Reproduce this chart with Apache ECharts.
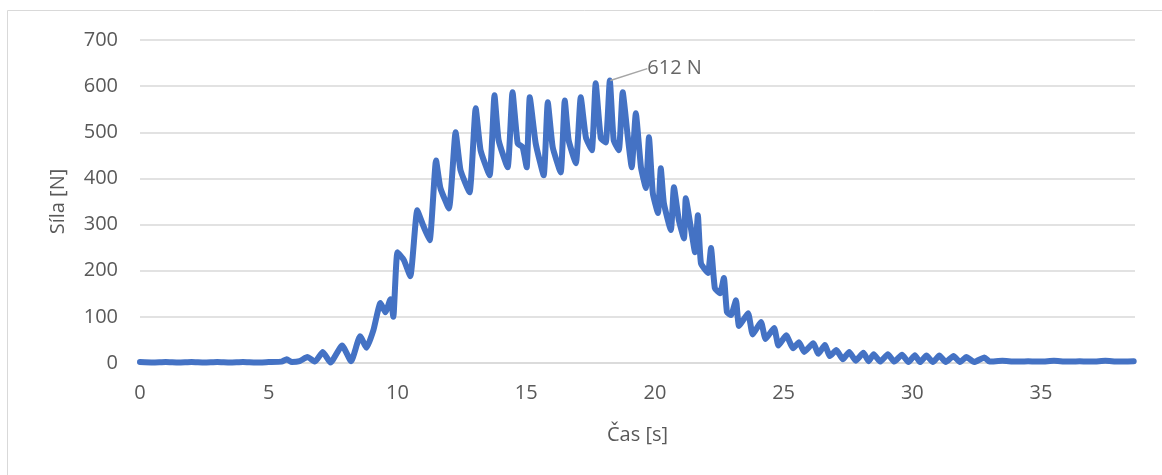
<!DOCTYPE html>
<html>
<head>
<meta charset="utf-8">
<script src="https://cdn.jsdelivr.net/npm/echarts@6/dist/echarts.min.js"></script>
<style>html,body{margin:0;padding:0;background:#fff}#c{width:1162px;height:475px}</style>
</head>
<body>
<div id="c"></div>
<script>
const times = [0,0.5,1,1.5,2,2.5,3,3.5,4,4.5,5,5.5,5.7,5.9,6.2,6.5,6.8,7.1,7.4,7.85,8.2,8.55,8.8,9.07,9.34,9.53,9.73,9.84,10.0,10.25,10.5,10.77,11.0,11.25,11.5,11.67,12.0,12.26,12.45,12.8,13.04,13.23,13.58,13.77,13.93,14.28,14.47,14.67,14.86,15.02,15.14,15.37,15.68,15.84,16.03,16.34,16.5,16.65,16.93,17.12,17.32,17.55,17.7,17.9,18.09,18.25,18.4,18.6,18.75,18.95,19.1,19.26,19.46,19.65,19.77,19.92,20.12,20.23,20.35,20.62,20.74,20.93,21.13,21.2,21.4,21.56,21.67,21.79,22.06,22.18,22.33,22.53,22.68,22.8,22.96,23.15,23.27,23.62,23.8,24.12,24.3,24.63,24.8,25.1,25.37,25.6,25.8,26.15,26.35,26.6,26.8,27.05,27.3,27.55,27.8,28.1,28.3,28.5,28.75,29.05,29.3,29.6,29.85,30.1,30.3,30.55,30.8,31.05,31.3,31.6,31.85,32.1,32.4,32.8,33.0,33.5,34,34.5,35,35.5,36,36.5,37,37.5,38,38.6];
const forces = [2,1,2,1,2,1,2,1,2,1,2,3,8,2,4,13,3,24,1,38,4,58,33,72,130,110,138,100,240,223,188,331,298,266,439,379,335,500,418,370,552,461,407,580,483,424,587,476,468,424,576,476,407,565,468,413,569,483,433,576,489,461,606,487,478,612,483,461,587,489,424,541,424,379,489,368,325,422,346,288,381,310,270,357,292,240,320,216,195,249,162,151,184,110,104,136,80,108,62,89,52,76,38,60,32,45,24,43,20,39,15,28,8,24,5,22,4,19,3,19,3,18,2,17,2,16,2,16,2,15,2,13,2,12,3,5,3,4,3,5,3,4,3,5,3,4];
const xTicks = [0,5,10,15,20,25,30,35];
const yTicks = [0,100,200,300,400,500,600,700];
const peakLabel = '612 N';
const xName = 'Čas [s]';
const yName = 'Síla [N]';

const peakIdx = forces.indexOf(Math.max(...forces));
const lineData = times.map((t,i)=> [t, forces[i]]);
const peakData = [[times[peakIdx], forces[peakIdx]]];

const chart = echarts.init(document.getElementById('c'), null, {renderer:'canvas'});
const font = 'Open Sans';
chart.setOption({
  animation:false,
  grid:{left:140, right:27, top:40, bottom:112},
  graphic:[
    {type:'line', shape:{x1:7.5,y1:10.5,x2:7.5,y2:475}, style:{stroke:'#D9D9D9', lineWidth:1}},
    {type:'line', shape:{x1:7.5,y1:10.5,x2:1162,y2:10.5}, style:{stroke:'#D9D9D9', lineWidth:1}}
  ],
  xAxis:{type:'value', min:0, max:38.65, interval:5,
    name:xName, nameLocation:'middle', nameGap:62,
    nameTextStyle:{fontSize:20, color:'#595959', fontFamily:font},
    axisLine:{show:true, lineStyle:{color:'#D9D9D9', width:1.5}},
    axisTick:{show:false}, splitLine:{show:false},
    axisLabel:{fontSize:20, color:'#595959', fontFamily:font, margin:20, showMaxLabel:false,
      formatter:v=> xTicks.includes(v) ? String(v) : ''}
  },
  yAxis:{type:'value', min:0, max:700, interval:100,
    name:yName, nameLocation:'middle', nameGap:72,
    nameTextStyle:{fontSize:20, color:'#595959', fontFamily:font},
    axisLine:{show:false}, axisTick:{show:false},
    splitLine:{lineStyle:{color:'#D9D9D9', width:1.5}},
    axisLabel:{fontSize:20, color:'#595959', fontFamily:font, margin:22,
      formatter:v=> yTicks.includes(v) ? String(v) : ''}
  },
  series:[{
    type:'line', data:lineData, showSymbol:false, symbol:'none', smooth:0.15,
    lineStyle:{color:'#4472C4', width:6, cap:'round', join:'round'},
    itemStyle:{color:'#4472C4'},
    z:3
  },{
    type:'scatter', data:peakData, symbolSize:1, itemStyle:{color:'rgba(0,0,0,0)'},
    label:{show:true, formatter:peakLabel, position:'right', fontSize:20, color:'#404040', fontFamily:font},
    labelLayout:{dx:32, dy:-12},
    labelLine:{show:true, lineStyle:{color:'#A6A6A6', width:1.5}},
    z:4
  }]
});
</script>
</body>
</html>
